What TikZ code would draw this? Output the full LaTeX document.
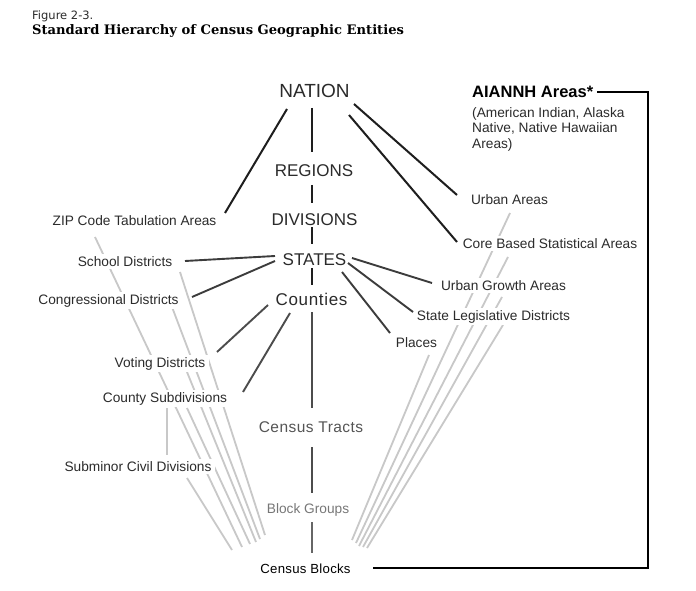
\documentclass[tikz,border=0pt]{standalone}
\usepackage{fontspec}
\setmainfont{Liberation Sans}
\newfontfamily\lsans{Liberation Sans}
\newfontfamily\lsansC[LetterSpace=4]{Liberation Sans}
\newfontfamily\lsansT[LetterSpace=3]{Liberation Sans}
\newfontfamily\lsansB[LetterSpace=2]{Liberation Sans}
\newfontfamily\figfont{DejaVu Sans}
\newfontfamily\titlefont{DejaVu Serif}
\definecolor{txt}{HTML}{2B2B2B}
\definecolor{txtmid}{HTML}{555555}
\definecolor{txtlight}{HTML}{777777}
\definecolor{fang}{HTML}{C8C8C8}
\definecolor{lnA}{HTML}{1E1E1E}
\definecolor{lnB}{HTML}{3C3C3C}
\definecolor{lnC}{HTML}{4C4C4C}
\definecolor{lnD}{HTML}{666666}
\tikzset{
  lbl/.style={fill=white, inner xsep=4bp, inner ysep=2.5bp, anchor=base, text=txt,
    font=\lsans\fontsize{13.7bp}{16bp}\selectfont},
  big/.style={fill=white, inner sep=2bp, anchor=base, text=txt,
    font=\lsans\fontsize{17bp}{20bp}\selectfont},
  fan/.style={draw=fang, line width=1.8bp},
  blkA/.style={draw=lnA, line width=2bp},
  blkB/.style={draw=lnB, line width=1.9bp},
  blkC/.style={draw=lnC, line width=1.9bp},
  blkD/.style={draw=lnD, line width=1.6bp},
  bracket/.style={draw=black, line width=1.4bp},
}
\begin{document}
\begin{tikzpicture}[x=1bp,y=-1bp]
\useasboundingbox[fill=white] (0,0) rectangle (696,591);

% ---------- end points of connectors ----------
% light fan, left side
\coordinate (zipF)  at (95,237);   \coordinate (zipE)  at (242,547);
\coordinate (schF)  at (180,272);  \coordinate (schE)  at (265,535);
\coordinate (conF)  at (172,307);  \coordinate (conE)  at (260,539);
\coordinate (votF)  at (187,372);  \coordinate (votE)  at (256,542);
\coordinate (cosF)  at (187,408);  \coordinate (cosE)  at (250,544);
\coordinate (subF)  at (187,478);  \coordinate (subE)  at (232,550);
\coordinate (cosV)  at (167,408);  \coordinate (subV)  at (167,455);
% light fan, right side
\coordinate (uaF)   at (510,213);  \coordinate (uaE)   at (356,543);
\coordinate (cbF)   at (508,257);  \coordinate (cbE)   at (359,546);
\coordinate (ugF)   at (502,297);  \coordinate (ugE)   at (363,547);
\coordinate (slF)   at (503,325);  \coordinate (slE)   at (367,548);
\coordinate (plF)   at (429,355);  \coordinate (plE)   at (352,540);

% ---------- light fan lines (behind the labels) ----------
\draw[fan] (zipF) -- (zipE);
\draw[fan] (schF) -- (schE);
\draw[fan] (conF) -- (conE);
\draw[fan] (votF) -- (votE);
\draw[fan] (cosF) -- (cosE);
\draw[fan] (subF) -- (subE);
\draw[fan] (cosV) -- (subV);
\draw[fan] (uaF) -- (uaE);
\draw[fan] (cbF) -- (cbE);
\draw[fan] (ugF) -- (ugE);
\draw[fan] (slF) -- (slE);
\draw[fan] (plF) -- (plE);

% ---------- title ----------
\node[anchor=base west, inner sep=0, text=txt, font=\figfont\fontsize{11.5bp}{13bp}\selectfont]
  (fig) at (32,19.5) {Figure 2-3.};
\node[anchor=base west, inner sep=0, text=black, font=\titlefont\bfseries\fontsize{13.1bp}{15bp}\selectfont]
  (title) at (32,35) {Standard Hierarchy of Census Geographic Entities};

% ---------- central column ----------
\node[big, font=\lsans\fontsize{19bp}{22bp}\selectfont] (nation) at (314.5,98) {NATION};
\node[big] (regions)   at (314,177)   {REGIONS};
\node[big] (divisions) at (314.5,225) {DIVISIONS};
\node[big] (states)    at (314.5,265) {STATES};
\node[big, font=\lsansC\fontsize{17bp}{20bp}\selectfont] (counties) at (311.5,305) {Counties};
\node[big, text=txtmid, font=\lsansT\fontsize{15.5bp}{18bp}\selectfont] (tracts) at (311,432) {Census Tracts};
\node[lbl, text=txtlight] (groups) at (308,513) {Block Groups};
\node[lbl, text=black, font=\lsansB\fontsize{13.2bp}{16bp}\selectfont] (blocks) at (305.5,573) {Census Blocks};

% ---------- left column ----------
\node[lbl] (zip)    at (134.5,225) {ZIP Code Tabulation Areas};
\node[lbl] (school) at (125,266)   {School Districts};
\node[lbl] (cong)   at (108.5,304) {Congressional Districts};
\node[lbl] (voting) at (160,367)   {Voting Districts};
\node[lbl] (cosub)  at (165,402)   {County Subdivisions};
\node[lbl] (submcd) at (138,471)   {Subminor Civil Divisions};

% ---------- right column ----------
\node[lbl, anchor=base west, inner xsep=0, text=black, font=\lsans\bfseries\fontsize{16.5bp}{19bp}\selectfont]
  (aiannh) at (472,98) {AIANNH Areas*};
\node[anchor=north west, inner sep=0, align=left, text=txt,
  font=\lsans\fontsize{13.7bp}{15.5bp}\selectfont]
  (aiannhtxt) at (472,107) {(American Indian, Alaska\\Native, Native Hawaiian\\Areas)};
\node[lbl] (ua)    at (509.5,205) {Urban Areas};
\node[lbl] (cbsa)  at (550,248)   {Core Based Statistical Areas};
\node[lbl] (uga)   at (503.5,290) {Urban Growth Areas};
\node[lbl] (sld)   at (493.5,320) {State Legislative Districts};
\node[lbl] (places) at (416.5,347) {Places};

% ---------- dark connectors ----------
\coordinate (nZa) at (287,109); \coordinate (nZb) at (225,213);
\coordinate (nRa) at (312,108); \coordinate (nRb) at (312,152);
\coordinate (rDa) at (312,185); \coordinate (rDb) at (312,203);
\coordinate (dSa) at (312,227); \coordinate (dSb) at (312,244);
\coordinate (sCa) at (312,268); \coordinate (sCb) at (312,285);
\coordinate (nUa) at (354,104); \coordinate (nUb) at (457,195);
\coordinate (nBa) at (349,115); \coordinate (nBb) at (457,242);
\coordinate (sSa) at (275,256); \coordinate (sSb) at (185,261);
\coordinate (sKa) at (275,261); \coordinate (sKb) at (192,297);
\coordinate (sGa) at (352,258); \coordinate (sGb) at (432,283);
\coordinate (sLa) at (348,263); \coordinate (sLb) at (413,312);
\coordinate (sPa) at (342,272); \coordinate (sPb) at (390,333);
\coordinate (cVa) at (268,305); \coordinate (cVb) at (217,352);
\coordinate (cUa) at (290,313); \coordinate (cUb) at (243,392);
\coordinate (cTa) at (312,312); \coordinate (cTb) at (312,408);
\coordinate (tGa) at (312,447); \coordinate (tGb) at (312,493);
\coordinate (gBa) at (312,522); \coordinate (gBb) at (312,553);
\coordinate (aA)  at (597,92);  \coordinate (aB)  at (648,92);
\coordinate (aC)  at (648,568); \coordinate (aD)  at (373,568);

\draw[blkA] (nZa) -- (nZb);
\draw[blkA] (nRa) -- (nRb);
\draw[blkA] (rDa) -- (rDb);
\draw[blkA] (dSa) -- (dSb);
\draw[blkA] (sCa) -- (sCb);
\draw[blkA] (nUa) -- (nUb);
\draw[blkA] (nBa) -- (nBb);
\draw[blkB] (sSa) -- (sSb);
\draw[blkB] (sKa) -- (sKb);
\draw[blkB] (sGa) -- (sGb);
\draw[blkB] (sLa) -- (sLb);
\draw[blkB] (sPa) -- (sPb);
\draw[blkC] (cVa) -- (cVb);
\draw[blkC] (cUa) -- (cUb);
\draw[blkC] (cTa) -- (cTb);
\draw[blkC] (tGa) -- (tGb);
\draw[blkD] (gBa) -- (gBb);
\draw[bracket] (aA) -- (aB) -- (aC) -- (aD);
\end{tikzpicture}
\end{document}
